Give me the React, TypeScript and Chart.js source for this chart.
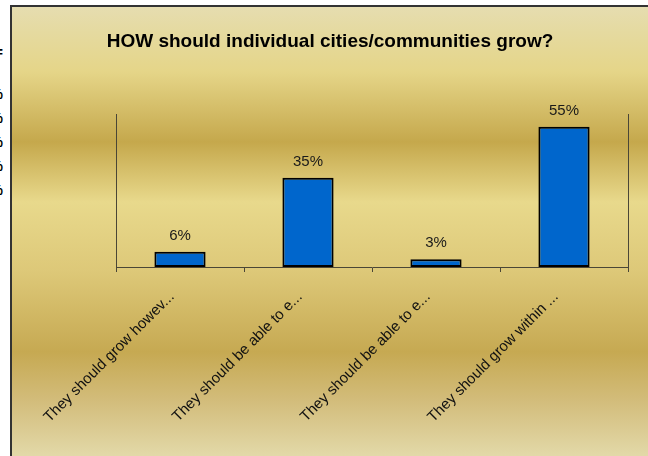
import React, { useEffect, useRef } from "react";
import { Chart, registerables } from "chart.js";

Chart.register(...registerables);

const titleText = "HOW should individual cities/communities grow?";
const categories = [
  "They should grow howev...",
  "They should be able to e...",
  "They should be able to e...",
  "They should grow within ...",
];
const values = [6, 35, 3, 55];
const yMin = 0;
const yMax = 60;
const sideFragments = ["=", "%", "%", "%", "%", "%"];

const FONT = "Arial, 'Liberation Sans', sans-serif";
const AXIS = "#4a4636";

const valueLabels = {
  id: "valueLabels",
  afterDatasetsDraw(chart: any) {
    const { ctx } = chart;
    const meta = chart.getDatasetMeta(0);
    ctx.save();
    ctx.font = "15px " + FONT;
    ctx.fillStyle = "#1a1a1a";
    ctx.textAlign = "center";
    ctx.textBaseline = "middle";
    meta.data.forEach((el: any, i: number) => {
      ctx.fillText(values[i] + "%", el.x, el.y - 16);
    });
    ctx.restore();
  },
};

export default function App() {
  const ref = useRef<HTMLCanvasElement>(null);

  useEffect(() => {
    if (!ref.current) return;
    const chart = new Chart(ref.current, {
      type: "bar",
      data: {
        labels: categories,
        datasets: [
          {
            data: values,
            backgroundColor: "#0066CC",
            borderColor: "#000000",
            borderWidth: 2,
            borderSkipped: false,
            barPercentage: 0.4,
            categoryPercentage: 1,
          },
        ],
      },
      options: {
        animation: false,
        responsive: false,
        layout: { padding: 0 },
        plugins: {
          legend: { display: false },
          tooltip: { enabled: false },
          title: {
            display: true,
            text: titleText,
            color: "#000",
            font: { size: 19, weight: "bold", family: FONT },
            padding: { top: 23.6, bottom: 60.6 },
          },
        },
        scales: {
          x: {
            offset: true,
            grid: {
              display: true,
              drawOnChartArea: false,
              drawTicks: true,
              tickLength: 5,
              color: AXIS,
              offset: true,
            },
            border: { display: true, color: AXIS, width: 1 },
            ticks: {
              autoSkip: false,
              minRotation: 45,
              maxRotation: 45,
              color: "#111",
              font: { size: 15, family: FONT },
              padding: 16,
              labelOffset: -8,
            },
            afterFit: (s: any) => {
              s.height = 189;
            },
          },
          y: {
            min: yMin,
            max: yMax,
            ticks: { display: false },
            grid: { display: false },
            border: { display: true, color: AXIS, width: 1 },
            afterFit: (s: any) => {
              s.width = 104;
            },
          },
          y2: {
            position: "right",
            ticks: { display: false },
            grid: { display: false },
            border: { display: true, color: AXIS, width: 1 },
            afterFit: (s: any) => {
              s.width = 20;
            },
          },
        },
      } as any,
      plugins: [valueLabels],
    });
    return () => chart.destroy();
  }, []);

  return (
    <div
      style={{
        position: "fixed",
        left: 0,
        top: 0,
        width: 648,
        height: 456,
        overflow: "hidden",
        background: "#fff",
      }}
    >
      {sideFragments.map((t, i) => (
        <div
          key={i}
          style={{
            position: "absolute",
            right: 645,
            top: i === 0 ? 44 : 86 + (i - 1) * 24,
            font: "bold 14px " + FONT,
            color: "#000",
            whiteSpace: "nowrap",
          }}
        >
          {t}
        </div>
      ))}
      <div
        style={{
          position: "absolute",
          left: 10,
          top: 5,
          width: 650,
          height: 460,
          borderLeft: "2px solid #333",
          borderTop: "2px solid #333",
          background:
            "linear-gradient(to bottom, #E6DDB0 0px, #E5DAA0 25px, #E5D588 65px, #C5A84C 135px, #E8D98C 195px, #DDC878 265px, #C6A952 345px, #D3BD7C 395px, #E3DAAA 451px)",
        }}
      />
      <canvas
        ref={ref}
        width={636}
        height={449}
        style={{ position: "absolute", left: 12, top: 7, width: 636, height: 449 }}
      />
    </div>
  );
}
